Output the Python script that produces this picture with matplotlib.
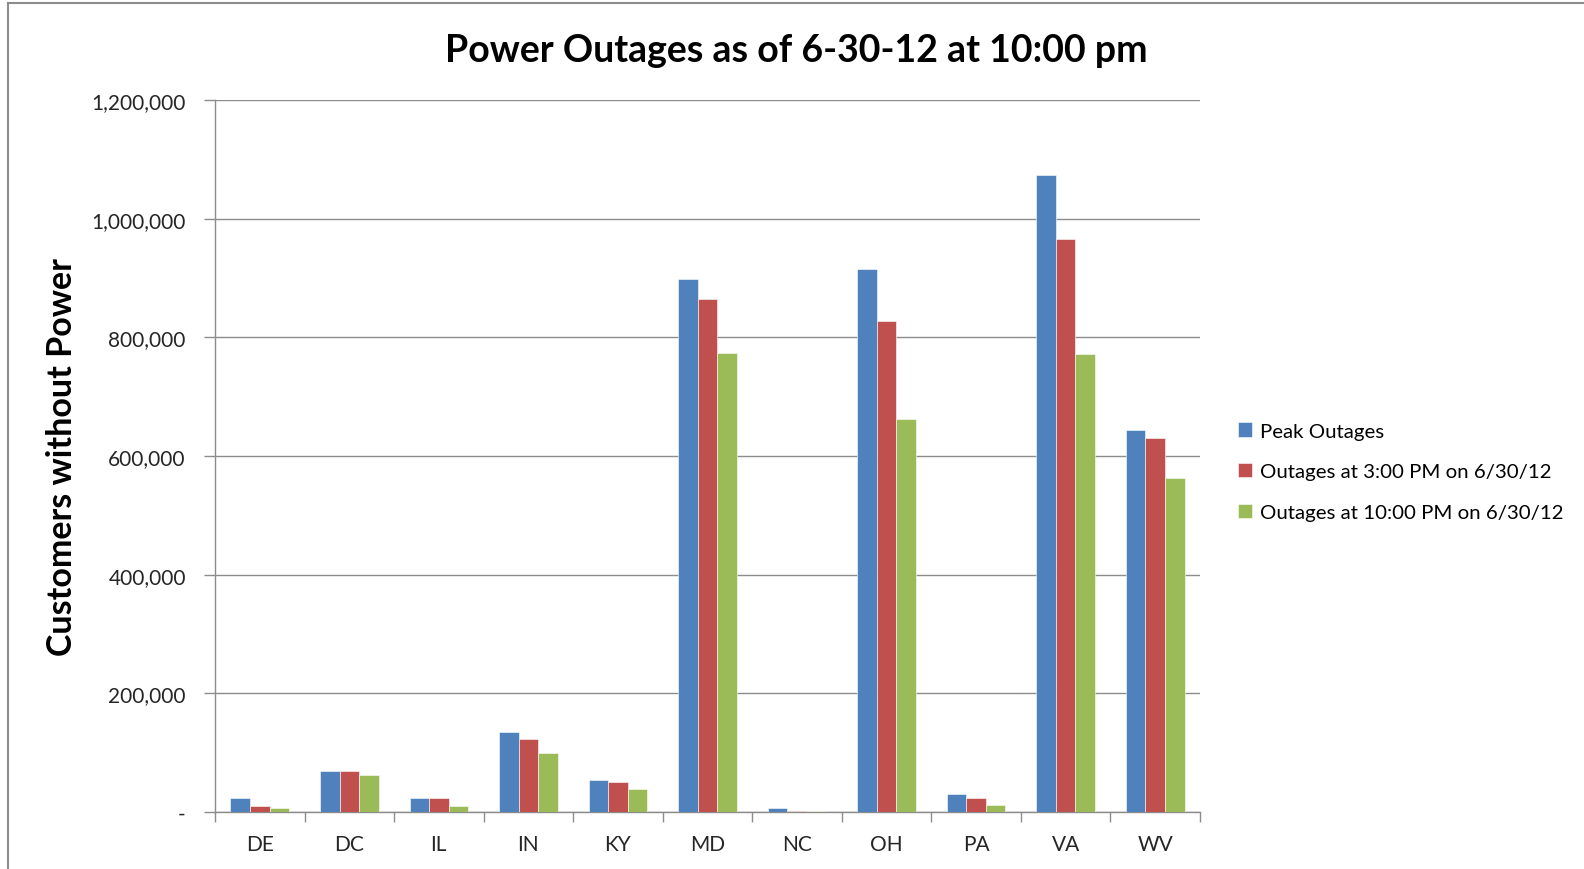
# Power outages bar chart, Excel 2007 look
import matplotlib.pyplot as plt
import numpy as np
from matplotlib.lines import Line2D
from matplotlib.ticker import FuncFormatter

states = ['DE', 'DC', 'IL', 'IN', 'KY', 'MD', 'NC', 'OH', 'PA', 'VA', 'WV']
peak = [23600, 68400, 23600, 135300, 53300, 898000, 7400, 914500, 29800, 1073500, 643000]
at_3pm = [10000, 68400, 23600, 122300, 51100, 864400, 2000, 827300, 24300, 966500, 629500]
at_10pm = [6700, 62900, 10000, 99900, 38800, 774400, 1500, 662200, 11300, 772300, 563100]
series_names = ['Peak Outages', 'Outages at 3:00 PM on 6/30/12', 'Outages at 10:00 PM on 6/30/12']
colors = ['#4F81BD', '#C0504D', '#9BBB59']

plt.rcParams['font.family'] = ['Lato', 'DejaVu Sans']

fig = plt.figure(figsize=(15.84, 8.70), dpi=100)
ax = fig.add_axes([215 / 1584, 1 - 813 / 870, (1200 - 215) / 1584, (813 - 101) / 870])

x = np.arange(len(states))
w = 0.218
for i, (vals, name) in enumerate(zip([peak, at_3pm, at_10pm], series_names)):
    ax.bar(x + (i - 1) * w, vals, width=w, color=colors[i], label=name,
           edgecolor='white', linewidth=0.4, zorder=3)

ax.set_xlim(-0.5, len(states) - 0.5)
ax.set_ylim(0, 1200000)
ax.set_yticks(np.arange(0, 1200001, 200000))
ax.yaxis.set_major_formatter(FuncFormatter(lambda v, p: '-' if v == 0 else f'{int(v):,}'))
ax.grid(axis='y', color='#8c8c8c', linewidth=1.0, zorder=0)

# category labels centred, ticks on category boundaries
ax.set_xticks(x)
ax.set_xticklabels(states)
ax.set_xticks(np.arange(-0.5, len(states), 1), minor=True)
ax.tick_params(axis='x', which='major', length=0, pad=16, labelsize=15, labelcolor='#262626')
ax.tick_params(axis='x', which='minor', length=7, color='#8c8c8c', width=1)
ax.tick_params(axis='y', length=8, color='#8c8c8c', width=1, pad=13, labelsize=15, labelcolor='#262626')

for s in ['top', 'right']:
    ax.spines[s].set_visible(False)
for s in ['left', 'bottom']:
    ax.spines[s].set_color('#8c8c8c')
    ax.spines[s].set_linewidth(1.0)

ax.set_ylabel('Customers without Power', fontsize=24.5, fontweight='bold', labelpad=10)
fig.text(0.503, 1 - 51 / 870, 'Power Outages as of 6-30-12 at 10:00 pm', fontsize=27,
         fontweight='bold', ha='center', va='center')

ax.legend(loc='center left', bbox_to_anchor=(1.02, 0.478), frameon=False, fontsize=14.7,
          handlelength=0.7, handleheight=0.7, handletextpad=0.35, labelspacing=1.15)

# outer chart border (left and top visible)
fig.add_artist(Line2D([8 / 1584, 8 / 1584], [0, 1 - 4 / 870], color='#8c8c8c', linewidth=1.5))
fig.add_artist(Line2D([8 / 1584, 1], [1 - 4 / 870, 1 - 4 / 870], color='#8c8c8c', linewidth=1.5))

plt.savefig('out.png', dpi=100)
